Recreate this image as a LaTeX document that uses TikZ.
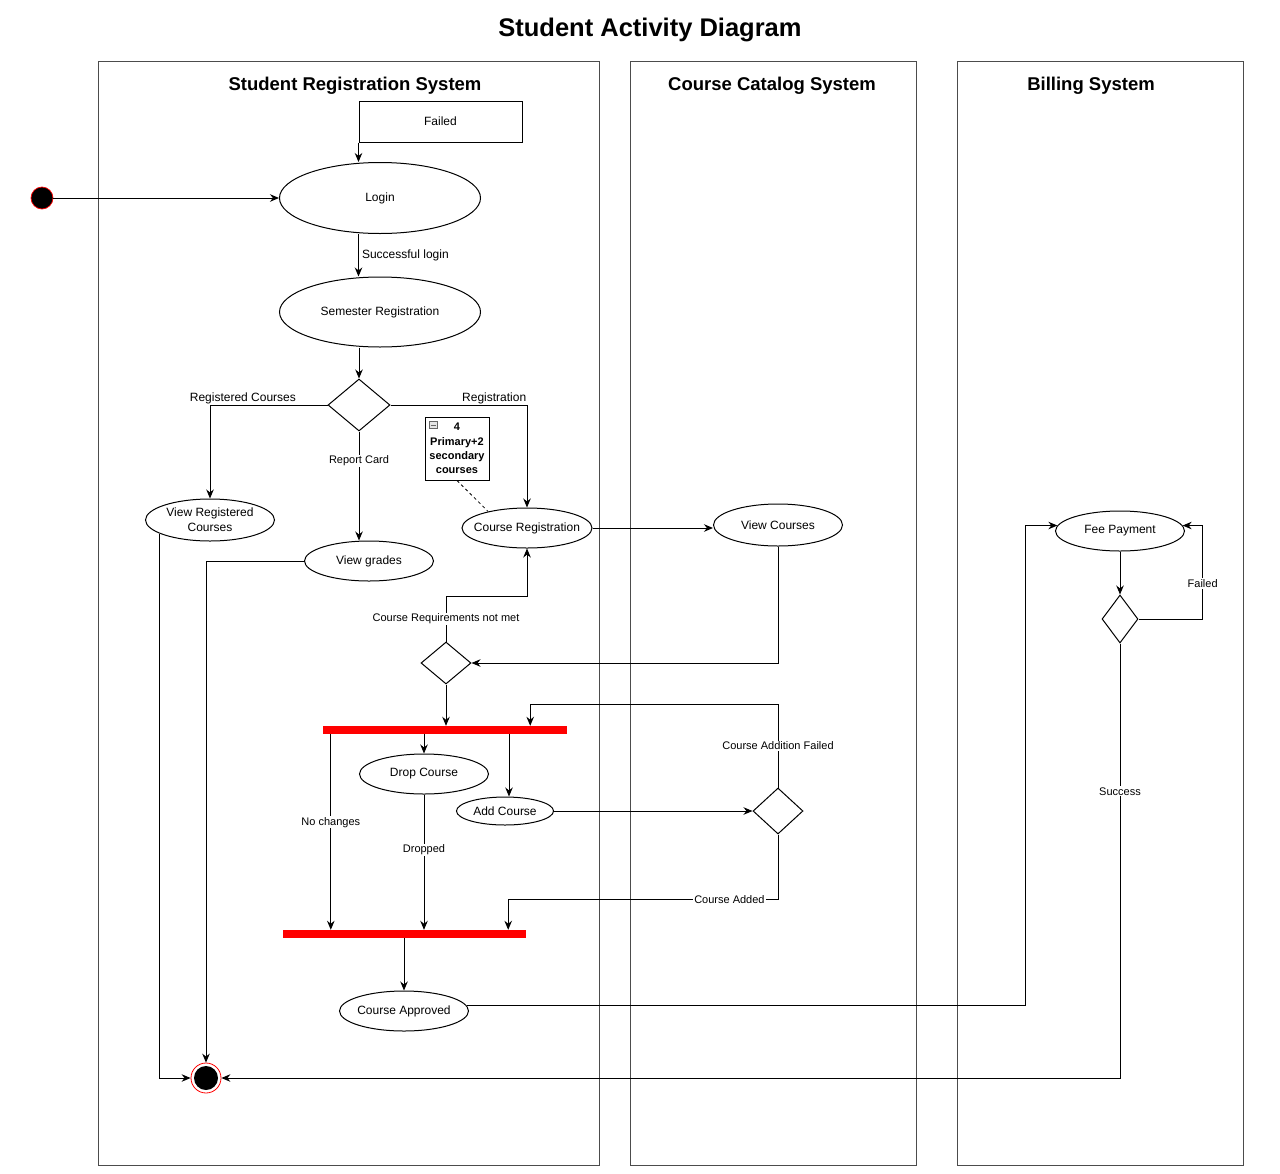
\documentclass[tikz,border=0pt]{standalone}
\usepackage{fontspec}
\setmainfont{Liberation Sans}
\usetikzlibrary{shapes.geometric, arrows.meta}

\begin{document}
\begin{tikzpicture}[
    x=1pt, y=-1pt,
    lane/.style={draw=black!70, line width=1pt, anchor=north west, inner sep=0pt},
    lanetitle/.style={font=\fontsize{18.5}{22}\selectfont\bfseries},
    activity/.style={ellipse, draw=black, line width=1pt, fill=white,
        inner sep=0pt, align=center, font=\fontsize{12}{15}\selectfont},
    decision/.style={diamond, draw=black, line width=1pt, fill=white, inner sep=0pt},
    bar/.style={rectangle, fill=red, inner sep=0pt, minimum height=8pt},
    flow/.style={line width=1pt, -{Stealth[length=9pt,width=7.5pt]}},
    lbl/.style={fill=white, inner sep=1pt, font=\fontsize{11}{13}\selectfont},
    tag/.style={inner sep=1pt, font=\fontsize{12}{14}\selectfont},
    startnode/.style={circle, fill=black, draw=red, line width=0.7pt,
        minimum size=22pt, inner sep=0pt},
    endnode/.style={circle, draw=red, line width=0.8pt, fill=white,
        minimum size=30pt, inner sep=0pt,
        path picture={\fill[black] (path picture bounding box.center) circle (12pt);}},
    notebox/.style={draw=black, line width=1pt, fill=white, align=center,
        text width=60pt, inner sep=2pt, minimum height=63pt,
        font=\fontsize{11}{14.3}\selectfont\bfseries}
]
    \useasboundingbox (0,0) rectangle (1280,1173);

    \node[font=\fontsize{25.5}{30}\selectfont\bfseries] (title) at (650,30) {Student Activity Diagram};

    \node[lane, minimum width=501pt, minimum height=1104pt] (srs) at (98,61) {};
    \node[lane, minimum width=286pt, minimum height=1104pt] (ccs) at (630,61) {};
    \node[lane, minimum width=286pt, minimum height=1104pt] (bs) at (957,61) {};
    \node[lanetitle] (srstitle) at (355,86) {Student Registration System};
    \node[lanetitle] (ccstitle) at (772,86) {Course Catalog System};
    \node[lanetitle] (bstitle) at (1091,86) {Billing System};

    \node[startnode] (start) at (42,198) {};
    \node[draw=black, line width=1pt, minimum width=163pt, minimum height=41pt,
        font=\fontsize{12}{14}\selectfont] (failed) at (440.5,121.5) {Failed};
    \node[activity, minimum width=201pt, minimum height=71pt] (login) at (380,198) {Login};
    \node[activity, minimum width=201pt, minimum height=70pt] (semreg) at (380,312) {Semester Registration};
    \node[decision, minimum width=62pt, minimum height=52pt] (dec1) at (359,405) {};
    \node[activity, minimum width=129pt, minimum height=42pt] (vreg) at (210,520) {View Registered\\Courses};
    \node[activity, minimum width=129pt, minimum height=40pt] (vgrades) at (369,561) {View grades};
    \node[activity, minimum width=130pt, minimum height=40pt, inner xsep=-8pt] (creg) at (527,528) {Course Registration};
    \node[notebox] (note) at (457,448.5) {4\\Primary+2\\secondary\\courses};
    \node[draw=black!60, fill=black!10, line width=0.5pt, minimum width=8pt,
        minimum height=7pt, inner sep=0pt,
        path picture={\draw[line width=0.6pt] ([xshift=1.5pt]path picture bounding box.west)
            -- ([xshift=-1.5pt]path picture bounding box.east);}] (collapse) at (433,425) {};
    \node[activity, minimum width=129pt, minimum height=42pt] (vcourses) at (778,525) {View Courses};
    \node[decision, minimum width=50pt, minimum height=42pt] (dec2) at (446,663) {};
    \node[bar, minimum width=244pt] (bar1) at (445,730) {};
    \node[activity, minimum width=129pt, minimum height=40pt] (drop) at (424,774) {Drop Course};
    \node[activity, minimum width=97pt, minimum height=28pt] (add) at (505,811) {Add Course};
    \node[decision, minimum width=50pt, minimum height=46pt] (dec3) at (778,811) {};
    \node[bar, minimum width=243pt] (bar2) at (404.5,934) {};
    \node[activity, minimum width=129pt, minimum height=40pt, inner xsep=-2pt] (approved) at (404,1011) {Course Approved};
    \node[activity, minimum width=129pt, minimum height=40pt] (fee) at (1120,531) {Fee Payment};
    \node[decision, minimum width=36pt, minimum height=48pt] (dec4) at (1120,619) {};
    \node[endnode] (final) at (206,1078) {};

    \draw[flow] (start) -- (login);
    \draw[flow] (failed.south west) -- (failed.south west |- login.north);
    \draw[flow] (login.south -| failed.west) -- node[tag, right, xshift=2pt]{Successful login} (semreg.north -| failed.west);
    \draw[flow] (semreg.south -| dec1.north) -- (dec1.north);
    \draw[flow] (dec1.west) -| node[tag, above, pos=0.36]{Registered Courses} (vreg.north);
    \draw[flow] (dec1.east) -| node[tag, above, pos=0.38]{Registration} (creg.north);
    \draw[flow] (dec1.south) -- node[lbl, pos=0.27]{Report Card} (dec1.south |- vgrades.north);
    \draw[dashed, line width=0.8pt] (note.south) -- (creg.157);
    \draw[flow] (creg.east) -- (creg.east -| vcourses.west);
    \draw[flow] (vcourses.south) |- (dec2.east);
    \draw[flow] (dec2.north) -- node[lbl]{Course Requirements not met} ++(0,-45) -| (creg.south);
    \draw[flow] (dec2.south) -- (dec2.south |- bar1.north);
    \draw[flow] (drop.north |- bar1.south) -- (drop.north);
    \draw[flow] ([xshift=4pt]add.north |- bar1.south) -- ([xshift=4pt]add.north);
    \draw[flow] ([xshift=8pt]bar1.south west) -- node[lbl, pos=0.45]{No changes} ([xshift=8pt]bar1.south west |- bar2.north);
    \draw[flow] (drop.south) -- node[lbl, pos=0.41]{Dropped} (drop.south |- bar2.north);
    \draw[flow] (add.east) -- (dec3.west);
    \draw[flow] (dec3.north) -- node[lbl]{Course Addition Failed} ++(0,-83) -| ([xshift=-37pt]bar1.north east);
    \draw[flow] (dec3.south) -- ++(0,65) -| node[lbl, pos=0.09]{Course Added} ([xshift=-18pt]bar2.north east);
    \draw[flow] (approved.north |- bar2.south) -- (approved.north);
    \draw[flow] (approved.5) -| ([xshift=-32pt]fee.175) -- (fee.175);
    \draw[flow] (fee.south) -- (dec4.north);
    \draw[flow] (dec4.east) -| node[lbl, pos=0.69]{Failed} ([xshift=20pt]fee.5) -- (fee.5);
    \draw[flow] (dec4.south) |- node[lbl, pos=0.17]{Success} (final.east);
    \draw[flow] (vreg.195) |- (final.west);
    \draw[flow] (vgrades.west) -| (final.north);
\end{tikzpicture}
\end{document}
